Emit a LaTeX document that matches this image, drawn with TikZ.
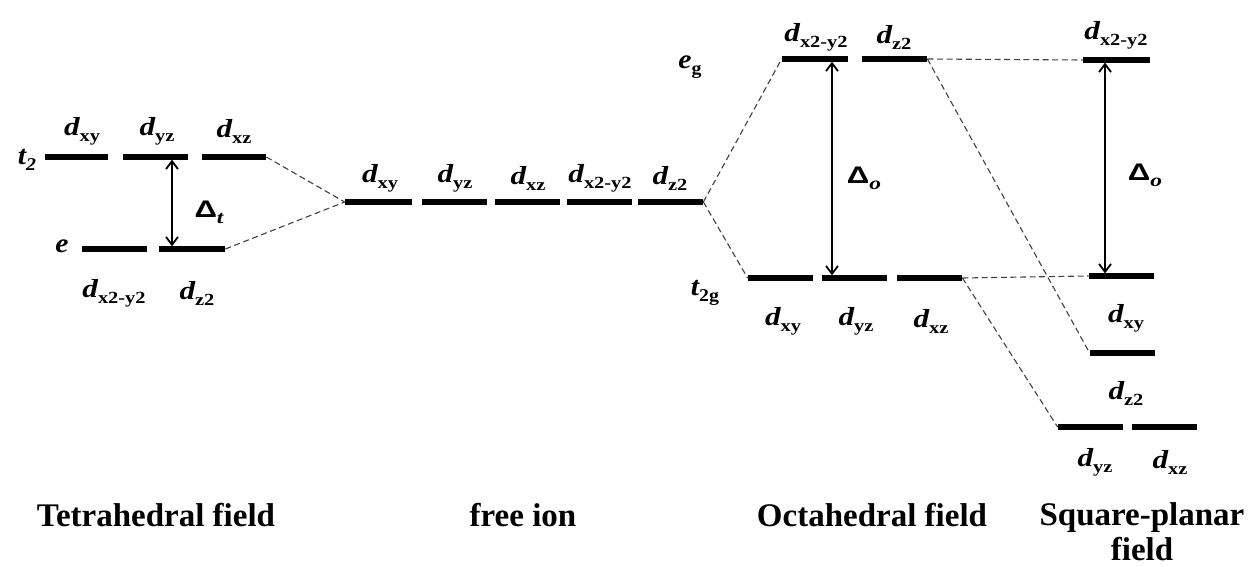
\documentclass[tikz,border=0pt]{standalone}
\usepackage{fontspec}
\setmainfont{Liberation Serif}
\newfontfamily\deltafont{Liberation Sans}
\usetikzlibrary{arrows.meta}
\newcommand{\dlab}[1]{\scalebox{1.2}[1]{\fontsize{13}{14}\selectfont\bfseries\itshape d\raisebox{-3pt}{\fontsize{8.5}{9}\selectfont\upshape #1}}}
\newcommand{\Dlab}[1]{\scalebox{1.3}[1]{\fontsize{12}{13}\selectfont\deltafont\bfseries Δ\raisebox{-3pt}{\fontsize{9}{10}\selectfont\rmfamily\bfseries\itshape #1}}}
\newcommand{\symlab}[2]{\scalebox{1.1}[1]{\fontsize{13.5}{14}\selectfont\bfseries\itshape #1\raisebox{-3pt}{\fontsize{9}{10}\selectfont #2}}}
\begin{document}
\begin{tikzpicture}[x=0.5pt,y=-0.5pt,
  bar/.style={fill=black, inner sep=0pt, minimum height=2.6pt, minimum width=#1},
  lab/.style={inner sep=0pt, anchor=center},
  ttl/.style={inner sep=0pt, anchor=center, font=\fontsize{16.5}{17.5}\selectfont\bfseries, align=center},
  link/.style={draw=black!75, line width=0.55pt, dash pattern=on 3pt off 1.8pt},
  gap/.style={{Straight Barb[length=4pt,width=6pt]}-{Straight Barb[length=4pt,width=6pt]}, line width=0.9pt}]
\useasboundingbox (0,0) rectangle (1248,567);

% Tetrahedral field
\node[bar=31.5pt] (tA) at (76.5,157) {};
\node[bar=32.5pt] (tB) at (155.5,157) {};
\node[bar=32pt] (tC) at (234,157) {};
\node[bar=32.5pt] (eA) at (114.5,249) {};
\node[bar=33pt] (eB) at (192,249) {};
\node[lab] (lt2) at (27,160) {\symlab{t}{\itshape 2}};
\node[lab] (le) at (62,249) {\symlab{e}{}};
\node[lab] (ltA) at (82,131) {\dlab{xy}};
\node[lab] (ltB) at (157,131) {\dlab{yz}};
\node[lab] (ltC) at (234,131) {\dlab{xz}};
\node[lab] (leA) at (114,293) {\dlab{x2-y2}};
\node[lab] (leB) at (197,293) {\dlab{z2}};
\coordinate (dtT) at (172,159.6);
\coordinate (dtB) at (172,246.4);
\draw[gap] (dtT) -- (dtB);
\node[lab] (ldt) at (209,212) {\Dlab{t}};

% free ion
\node[bar=33.5pt] (fA) at (378.5,202) {};
\node[bar=32.5pt] (fB) at (454.5,202) {};
\node[bar=32.5pt] (fC) at (527.5,202) {};
\node[bar=32.5pt] (fD) at (599.5,202) {};
\node[bar=32.5pt] (fE) at (670.5,202) {};
\node[lab] (lfA) at (380,178) {\dlab{xy}};
\node[lab] (lfB) at (455,178) {\dlab{yz}};
\node[lab] (lfC) at (528,178) {\dlab{xz}};
\node[lab] (lfD) at (600,178) {\dlab{x2-y2}};
\node[lab] (lfE) at (670,178) {\dlab{z2}};

% Octahedral field
\node[bar=33pt] (oA) at (815,59) {};
\node[bar=32.5pt] (oB) at (894.5,59) {};
\node[bar=32.5pt] (oC) at (780.5,278) {};
\node[bar=32.5pt] (oD) at (854.5,278) {};
\node[bar=32.5pt] (oE) at (929.5,278) {};
\node[lab] (leg) at (690,67) {\symlab{e}{\upshape g}};
\node[lab] (lt2g) at (705,293) {\symlab{t}{\upshape 2g}};
\node[lab] (loA) at (816,37) {\dlab{x2-y2}};
\node[lab] (loB) at (894,37) {\dlab{z2}};
\node[lab] (loC) at (783,321) {\dlab{xy}};
\node[lab] (loD) at (856,321) {\dlab{yz}};
\node[lab] (loE) at (931,321) {\dlab{xz}};
\coordinate (doT) at (832,61.6);
\coordinate (doB) at (832,275.4);
\draw[gap] (doT) -- (doB);
\node[lab] (ldo) at (864,178) {\Dlab{o}};

% Square-planar field
\node[bar=33.5pt] (sA) at (1116.5,60) {};
\node[bar=32.5pt] (sB) at (1121.5,276) {};
\node[bar=32.5pt] (sC) at (1122.5,353) {};
\node[bar=32.5pt] (sD) at (1090.5,427) {};
\node[bar=32.5pt] (sE) at (1164.5,427) {};
\node[lab] (lsA) at (1116,35) {\dlab{x2-y2}};
\node[lab] (lsB) at (1126,318) {\dlab{xy}};
\node[lab] (lsC) at (1126,393) {\dlab{z2}};
\node[lab] (lsD) at (1095,462) {\dlab{yz}};
\node[lab] (lsE) at (1170,462) {\dlab{xz}};
\coordinate (dsT) at (1105,62.6);
\coordinate (dsB) at (1105,273.4);
\draw[gap] (dsT) -- (dsB);
\node[lab] (lds) at (1145,175) {\Dlab{o}};

% correlation lines
\draw[link] (tC.east) -- (fA.west);
\draw[link] (eB.east) -- (fA.west);
\draw[link] (fE.east) -- (oA.west);
\draw[link] (fE.east) -- (oC.west);
\draw[link] (oB.east) -- (sA.west);
\draw[link] (oB.east) -- (sC.west);
\draw[link] (oE.east) -- (sB.west);
\draw[link] (oE.east) -- (sD.west);

% titles
\node[ttl] (T1) at (156,515) {Tetrahedral field};
\node[ttl] (T2) at (523,515) {free ion};
\node[ttl] (T3) at (872,515) {Octahedral field};
\node[ttl, anchor=north] (T4) at (1142,502) {Square-planar\\field};
\end{tikzpicture}
\end{document}
